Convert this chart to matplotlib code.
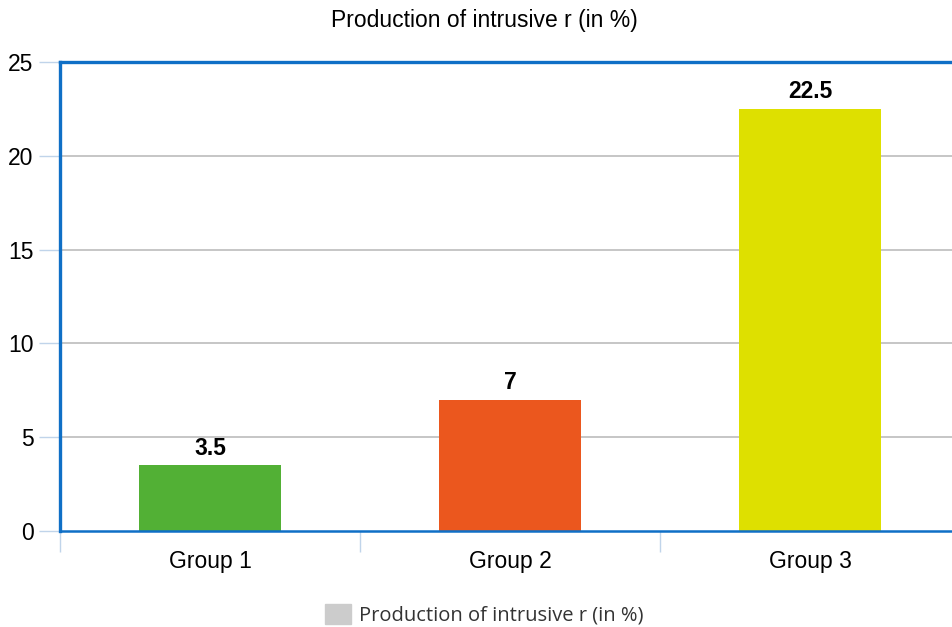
import numpy as np
import matplotlib.pyplot as plt

# data
groups = ['Group 1', 'Group 2', 'Group 3']
values = [3.5, 7, 22.5]
bar_colors = ['#52b035', '#eb571e', '#dee000']
value_labels = ['3.5', '7', '22.5']
title = 'Production of intrusive r (in %)'
yticks = [0, 5, 10, 15, 20, 25]

plt.rcParams['font.family'] = ['Liberation Sans', 'DejaVu Sans']

W, H = 952, 627
fig = plt.figure(figsize=(W / 100, H / 100), dpi=100)
# plot area runs past the right edge of the picture
ax = fig.add_axes([60 / W, (H - 531) / H, 900 / W, (531 - 62) / H])

x = np.arange(len(groups))
ax.bar(x, values, width=0.473, color=bar_colors, zorder=3)

ax.set_xlim(-0.5, len(groups) - 0.5)
ax.set_ylim(0, 25)

# grid lines
for v in yticks[1:-1]:
    ax.axhline(v, color='#bcbcbc', linewidth=1.2, zorder=1)

# frame
for side in ['left', 'top', 'bottom']:
    ax.spines[side].set_color('#0f6fc6')
    ax.spines[side].set_linewidth(2.4)
ax.spines['right'].set_visible(False)
ax.spines['bottom'].set_linewidth(1.8)
ax.spines['bottom'].set_zorder(4)

ax.set_yticks(yticks)
ax.set_yticklabels([str(v) for v in yticks], fontsize=16.5)
ax.tick_params(axis='y', length=15, width=1, color='#c0d4ea', pad=4)

# category labels at centres, separator ticks at boundaries
ax.set_xticks(x)
ax.set_xticklabels(groups, fontsize=16.5)
ax.tick_params(axis='x', length=0, pad=14)
ax.set_xticks(np.arange(-0.5, len(groups)), minor=True)
ax.tick_params(axis='x', which='minor', length=15, width=1, color='#c0d4ea')

for xi, v, lab in zip(x, values, value_labels):
    ax.annotate(lab, (xi, v), xytext=(0, 4), textcoords='offset points',
                ha='center', va='bottom', fontsize=16.5, fontweight='bold')

fig.text(484 / W, 1 - 20 / H, title, ha='center', va='center', fontsize=16.5)

# legend
fig.patches.append(plt.Rectangle((325 / W, 1 - 624 / H), 26 / W, 20 / H,
                                 transform=fig.transFigure, color='#cccccc'))
fig.text(359 / W, 1 - 615 / H, title, ha='left', va='center', fontsize=14.5,
         color='#333333', family=['Open Sans', 'DejaVu Sans'])

fig.savefig('out.png', dpi=100)
